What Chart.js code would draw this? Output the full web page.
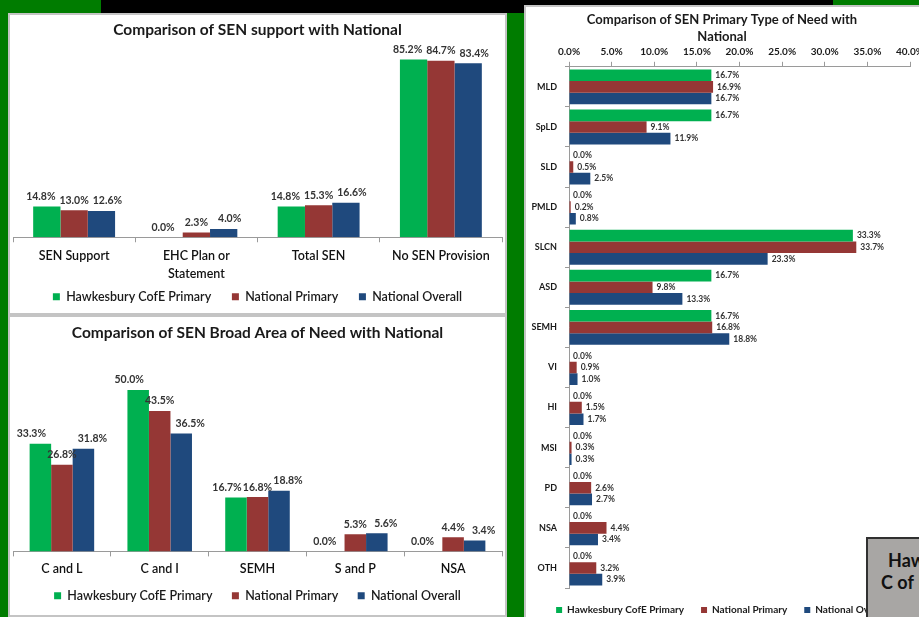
<!DOCTYPE html>
<html>
<head>
<meta charset="utf-8">
<script src="https://cdn.jsdelivr.net/npm/chart.js@4.4.1/dist/chart.umd.min.js"></script>
<style>
  body { margin: 0; width: 919px; height: 617px; overflow: hidden; position: relative; background: #007c00; font-family: Lato, sans-serif; }
  #topbar { position: absolute; left: 101px; top: 0; width: 732px; height: 13px; background: #000; }
  .panel { position: absolute; background: #fff; border: 2px solid #c4c4c4; }
  .panel canvas { display: block; }
  #badge { position: absolute; left: 866px; top: 537px; width: 80px; height: 90px; background: #a8a6a4; border: 2px solid #303030; overflow: hidden; font-weight: bold; font-size: 18px; color: #111; }
  #badge div { position: absolute; white-space: nowrap; }
</style>
</head>
<body>
<div id="topbar"></div>
<div class="panel" style="left:8px;top:13px;"><canvas id="plots" width="495" height="298"></canvas></div>
<div class="panel" style="left:8px;top:315px;"><canvas id="plots2" width="495" height="298"></canvas></div>
<div class="panel" style="left:524px;top:5px;"><canvas id="plots3" width="396" height="618"></canvas></div>
<div id="badge"><div style="left:20px;top:10px;">Hawkesbury</div><div style="left:13px;top:32px;">C of E Primary</div></div>
<script>
// Series names / colours
var seriesNames = ["Hawkesbury CofE Primary", "National Primary", "National Overall"];
var seriesColours = ["#00b050", "#953735", "#1f497d"];

// Chart 1: SEN support
var supportCats = [["SEN Support"], ["EHC Plan or", "Statement"], ["Total SEN"], ["No SEN Provision"]];
var supportSchool = [14.8, 0.0, 14.8, 85.2];
var supportNatPrimary = [13.0, 2.3, 15.3, 84.7];
var supportNatOverall = [12.6, 4.0, 16.6, 83.4];

// Chart 2: broad area of need
var areaCats = ["C and L", "C and I", "SEMH", "S and P", "NSA"];
var areaSchool = [33.3, 50.0, 16.7, 0.0, 0.0];
var areaNatPrimary = [26.8, 43.5, 16.8, 5.3, 4.4];
var areaNatOverall = [31.8, 36.5, 18.8, 5.6, 3.4];

// Chart 3: primary type of need
var needCats = ["MLD", "SpLD", "SLD", "PMLD", "SLCN", "ASD", "SEMH", "VI", "HI", "MSI", "PD", "NSA", "OTH"];
var needSchool = [16.7, 16.7, 0.0, 0.0, 33.3, 16.7, 16.7, 0.0, 0.0, 0.0, 0.0, 0.0, 0.0];
var needNatPrimary = [16.9, 9.1, 0.5, 0.2, 33.7, 9.8, 16.8, 0.9, 1.5, 0.3, 2.6, 4.4, 3.2];
var needNatOverall = [16.7, 11.9, 2.5, 0.8, 23.3, 13.3, 18.8, 1.0, 1.7, 0.3, 2.7, 3.4, 3.9];

Chart.defaults.font.family = "Lato, sans-serif";
Chart.defaults.color = "#1a1a1a";
Chart.defaults.animation = false;

// draws the % value next to each bar
var valueLabels = {
    id: "valueLabels",
    afterDatasetsDraw: function (chart, args, opts) {
        var ctx = chart.ctx;
        ctx.save();
        ctx.font = opts.font;
        ctx.fillStyle = opts.color;
        ctx.textBaseline = "middle";
        chart.data.datasets.forEach(function (ds, i) {
            chart.getDatasetMeta(i).data.forEach(function (bar, j) {
                var txt = ds.data[j].toFixed(1) + "%";
                if (opts.horizontal) {
                    ctx.textAlign = "left";
                    ctx.fillText(txt, bar.x + opts.offset, bar.y);
                } else {
                    ctx.textAlign = "center";
                    ctx.fillText(txt, bar.x + (i - 1) * (opts.spread || 0), bar.y - opts.offset);
                }
            });
        });
        ctx.restore();
    }
};

function makeSets(a, b, c) {
    return [a, b, c].map(function (d, i) {
        return { label: seriesNames[i], data: d, backgroundColor: seriesColours[i], borderWidth: 0 };
    });
}

// legend entries with a few spaces after them (item gap without extra height)
function spacedLabels(n) {
    return function (chart) {
        var items = Chart.defaults.plugins.legend.labels.generateLabels(chart);
        items.forEach(function (it, i) { if (i < items.length - 1) it.text += n; });
        return items;
    };
}

function columnChart(id, cats, sets, cfg) {
    new Chart(document.getElementById(id), {
        type: "bar",
        data: { labels: cats, datasets: sets },
        options: {
            responsive: false,
            layout: { padding: { left: 3, right: 3, top: 0, bottom: cfg.padBottom } },
            datasets: { bar: { barPercentage: 1.0, categoryPercentage: cfg.catPct } },
            plugins: {
                title: { display: true, text: cfg.title, color: "#1a1a1a", font: { size: 15.5, weight: "bold" }, padding: { top: cfg.titleTop, bottom: cfg.titleBottom } },
                legend: { position: "bottom", labels: { boxWidth: 7, boxHeight: 7, padding: cfg.legendPad, color: "#1a1a1a", font: { size: 12.5, weight: "600" }, generateLabels: spacedLabels(cfg.gap) } },
                tooltip: { enabled: false },
                valueLabels: { font: "bold 10.5px Lato", color: "#333", offset: 10, spread: cfg.spread }
            },
            scales: {
                x: {
                    grid: { offset: true, drawOnChartArea: false, tickLength: 5, color: "#9a9a9a" },
                    border: { color: "#9a9a9a" },
                    ticks: { padding: cfg.tickPad, font: { size: 12.5, weight: "600", lineHeight: 1.45 }, color: "#111", maxRotation: 0 }
                },
                y: { display: false, min: 0, max: cfg.yMax }
            }
        },
        plugins: [valueLabels]
    });
}

columnChart("plots", supportCats, makeSets(supportSchool, supportNatPrimary, supportNatOverall), {
    yMax: 90, catPct: 0.67, title: "Comparison of SEN support with National",
    titleTop: 6, titleBottom: 10, tickPad: 5, legendPad: 2, gap: "      ", padBottom: 0, spread: 6
});
columnChart("plots2", areaCats, makeSets(areaSchool, areaNatPrimary, areaNatOverall), {
    yMax: 60, catPct: 0.66, title: "Comparison of SEN Broad Area of Need with National",
    titleTop: 7, titleBottom: 15, tickPad: 4, legendPad: 7, gap: "    ", padBottom: 3, spread: 9
});

// horizontal chart
new Chart(document.getElementById("plots3"), {
    type: "bar",
    data: { labels: needCats, datasets: makeSets(needSchool, needNatPrimary, needNatOverall) },
    options: {
        responsive: false,
        indexAxis: "y",
        layout: { padding: { left: 0, right: 4, top: 0, bottom: 0 } },
        datasets: { bar: { barPercentage: 1.0, categoryPercentage: 0.87 } },
        plugins: {
            title: { display: true, text: ["Comparison of SEN Primary Type of Need with", "National"], color: "#1a1a1a",
                font: { size: 13, weight: "bold", lineHeight: 1.3 }, padding: { top: 4, bottom: 2 } },
            legend: { position: "bottom", labels: { boxWidth: 6, boxHeight: 6, padding: 17, color: "#1a1a1a", font: { size: 10, weight: "bold" } } },
            tooltip: { enabled: false },
            valueLabels: { font: "bold 8.5px Lato", color: "#333", offset: 4, horizontal: true }
        },
        scales: {
            x: {
                position: "top", min: 0, max: 40,
                grid: { drawOnChartArea: false, tickLength: 5, color: "#9a9a9a" },
                border: { color: "#9a9a9a" },
                ticks: { stepSize: 5, padding: 4, color: "#1a1a1a", font: { size: 10, weight: "bold" },
                    callback: function (v) { return v.toFixed(1) + "%"; } },
                afterFit: function (s) { s.height = 20; s.paddingRight = 12; }
            },
            y: {
                grid: { offset: true, drawOnChartArea: false, tickLength: 4, color: "#9a9a9a" },
                border: { color: "#9a9a9a" },
                ticks: { padding: 8, color: "#1a1a1a", font: { size: 9, weight: "bold" } },
                afterFit: function (s) { s.width = 43; }
            }
        }
    },
    plugins: [valueLabels]
});
</script>
</body>
</html>
